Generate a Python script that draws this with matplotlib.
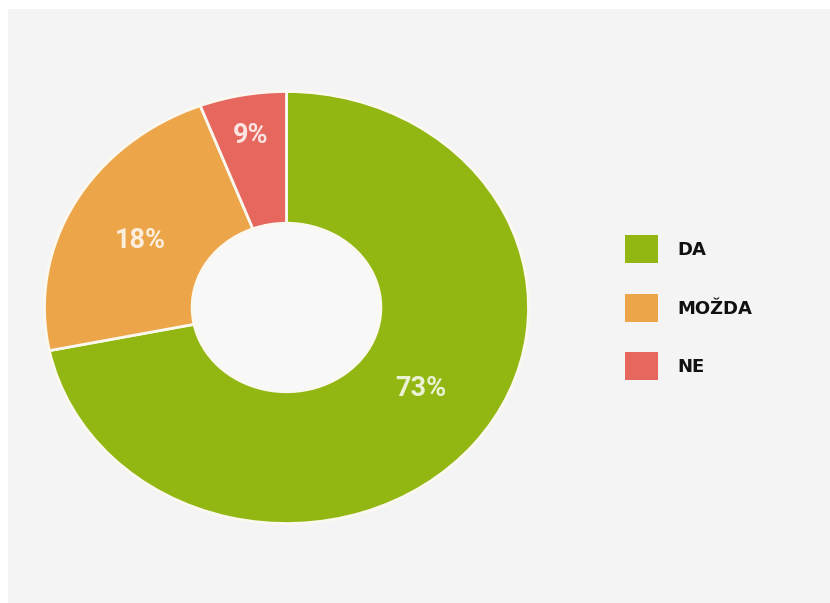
import numpy as np
import matplotlib
matplotlib.use("Agg")
import matplotlib.pyplot as plt
from matplotlib.patches import Rectangle

# Data (slice sizes as drawn in the picture, labels as printed)
categories = ["DA", "MOŽDA", "NE"]
slice_values = [71.8, 22.4, 5.8]
pct_labels = ["73%", "18%", "9%"]
colors = ["#92b713", "#eca549", "#e5675e"]

W, H = 830, 603
fig = plt.figure(figsize=(W / 100, H / 100), dpi=100)
fig.patch.set_facecolor("white")

# light gray panel
fig.patches.append(Rectangle((8 / W, 0), 1 - 8 / W, 1 - 9 / H,
                             transform=fig.transFigure, facecolor="#f4f4f4",
                             edgecolor="none", zorder=-5))

cx, cy, rx, ry = 286.5, 307.5, 242, 216
ax = fig.add_axes([(cx - rx) / W, (H - cy - ry) / H, 2 * rx / W, 2 * ry / H])
ax.set_facecolor("none")
ax.set_zorder(2)

wedges, _ = ax.pie(slice_values, colors=colors, startangle=90, counterclock=False,
                   radius=1.0, wedgeprops=dict(width=0.61, edgecolor="#fbf8f0", linewidth=2))
ax.set_aspect("auto")
ax.set_xlim(-1, 1)
ax.set_ylim(-1, 1)
ax.axis("off")

# hole slightly lighter than panel
ax.add_patch(matplotlib.patches.Circle((0, 0), 0.385, facecolor="#f8f8f8",
                                       edgecolor="none", zorder=0))

label_r = [0.67, 0.68, 0.81]
label_dang = [5.0, 1.5, 0.0]
for w, lab, r, da in zip(wedges, pct_labels, label_r, label_dang):
    ang = np.deg2rad((w.theta1 + w.theta2) / 2 + da)
    ax.text(r * np.cos(ang), r * np.sin(ang), lab, ha="center", va="center",
            fontsize=19.5, fontweight="bold", family=["Roboto", "DejaVu Sans"],
            color="white", alpha=0.82)

# legend
sq_w, sq_h = 33 / W, 28 / H
tops = [235, 294, 352]
for cat, col, t in zip(categories, colors, tops):
    fig.patches.append(Rectangle((625 / W, 1 - (t + 28) / H), sq_w, sq_h,
                                 transform=fig.transFigure, facecolor=col,
                                 edgecolor="none", zorder=3))
    fig.text(677 / W, 1 - (t + 15) / H, cat, ha="left", va="center",
             fontsize=13, fontweight="bold", family=["DejaVu Sans"],
             color="#111111", zorder=4)

fig.savefig("out.png", dpi=100, facecolor=fig.get_facecolor())
